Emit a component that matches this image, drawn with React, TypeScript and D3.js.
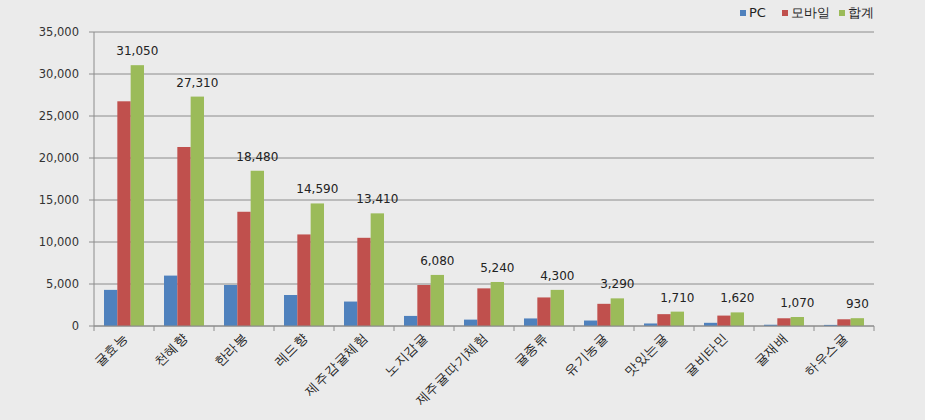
import React from "react";
import * as d3 from "d3";

const categories = ["귤효능", "천혜향", "한라봉", "레드향", "제주감귤체험", "노지감귤", "제주귤따기체험", "귤종류", "유기농귤", "맛있는귤", "귤비타민", "귤재배", "하우스귤"];
const pcValues = [4300, 6000, 4880, 3690, 2910, 1200, 760, 900, 650, 300, 380, 150, 130];
const mobileValues = [26750, 21310, 13600, 10900, 10500, 4880, 4480, 3400, 2640, 1410, 1240, 920, 800];
const totalValues = [31050, 27310, 18480, 14590, 13410, 6080, 5240, 4300, 3290, 1710, 1620, 1070, 930];
const seriesNames = ["PC", "모바일", "합계"];
const seriesColors = ["#4f81bd", "#c0504d", "#9bbb59"];
const yTicks = [0, 5000, 10000, 15000, 20000, 25000, 30000, 35000];

const W = 925, H = 420;
const left = 94, right = 874, top = 32, bottom = 326;
const font = "'DejaVu Sans', sans-serif";

export default function App() {
  const x = d3.scaleBand<string>().domain(categories).range([left, right]).paddingInner(0).paddingOuter(0);
  const inner = d3.scaleBand<number>().domain([0, 1, 2]).range([0, x.bandwidth()]).paddingOuter(0.75).paddingInner(0);
  const y = d3.scaleLinear().domain([0, 35000]).range([bottom, top]);
  const fmt = d3.format(",");
  const series = [pcValues, mobileValues, totalValues];
  const legendX = [740, 782, 839];

  return (
    <svg width={W} height={H} style={{ position: "absolute", left: 0, top: 0, background: "#ebebeb" }} fontFamily={font}>
      <rect x={0} y={0} width={W} height={H} fill="#ebebeb" />
      {yTicks.map((t) => (
        <g key={t}>
          <line x1={left - 5} x2={right} y1={y(t)} y2={y(t)} stroke="#8c8c8c" strokeWidth={1} />
          <text x={79} y={y(t) + 4} textAnchor="end" fontSize={11.5} fill="#333">{fmt(t)}</text>
        </g>
      ))}
      {categories.map((c, i) => (
        <g key={c}>
          {series.map((vals, s) => (
            <rect key={s} x={(x(c) as number) + (inner(s) as number)} y={y(vals[i])} width={inner.bandwidth()} height={bottom - y(vals[i])} fill={seriesColors[s]} />
          ))}
          <text x={(x(c) as number) + (inner(2) as number) + inner.bandwidth() / 2} y={y(totalValues[i]) - 10} textAnchor="middle" fontSize={12} fill="#222">{fmt(totalValues[i])}</text>
          <text transform={`translate(${(x(c) as number) + x.bandwidth() / 2 + 5},${bottom + 12}) rotate(-45)`} textAnchor="end" fontSize={13} letterSpacing={0.8} fill="#222">{c}</text>
        </g>
      ))}
      <line x1={left} x2={left} y1={top} y2={bottom} stroke="#8c8c8c" />
      <line x1={left} x2={right} y1={bottom} y2={bottom} stroke="#8c8c8c" />
      {[...categories.map((c) => x(c) as number), right].map((px, i) => (
        <line key={i} x1={px} x2={px} y1={bottom} y2={bottom + 5} stroke="#8c8c8c" />
      ))}
      {seriesNames.map((n, s) => (
        <g key={n}>
          <rect x={legendX[s]} y={10} width={6} height={6} fill={seriesColors[s]} />
          <text x={legendX[s] + 9} y={17} fontSize={13} fill="#222">{n}</text>
        </g>
      ))}
    </svg>
  );
}
